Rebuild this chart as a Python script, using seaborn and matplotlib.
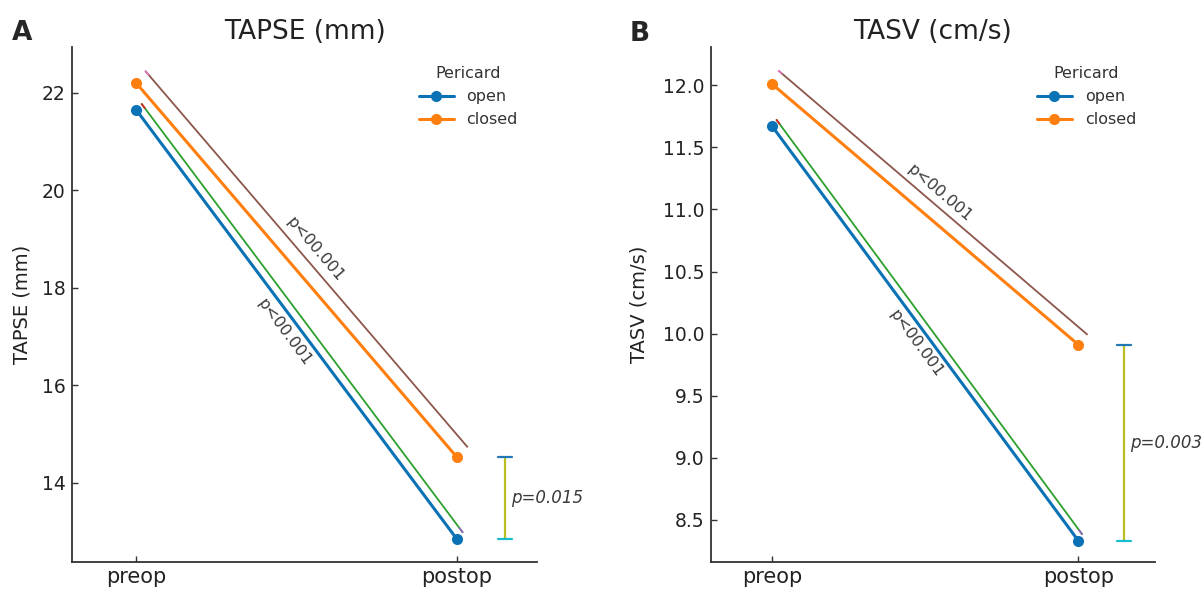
import numpy as np
import pandas as pd
import matplotlib
matplotlib.use("Agg")
import matplotlib.pyplot as plt
import seaborn as sns

# values
times = ["preop", "postop"]
groups = ["open", "closed"]

tapse_open = [21.65, 12.85]
tapse_closed = [22.2, 14.53]
tasv_open = [11.67, 8.33]
tasv_closed = [12.01, 9.91]

p_trend = "p<00.001"
p_tapse = "p=0.015"
p_tasv = "p=0.003"

palette = {"open": "#0a72b5", "closed": "#ff7f0e"}
txt_col = "#3a3a3a"

sns.set_style("ticks", {"xtick.direction": "in", "ytick.direction": "in",
                        "axes.edgecolor": "#333333"})
plt.rcParams["font.family"] = ["DejaVu Sans"]


def make_df(v_open, v_closed):
    rows = []
    for g, vals in zip(groups, [v_open, v_closed]):
        for t, v in zip(times, vals):
            rows.append({"time": t, "value": v, "Pericard": g})
    return pd.DataFrame(rows)


def offset_line(ax, vals, dx0, dx1, dy0, dy1, color, tip0=None, tip1=None):
    # thin line drawn next to a group line, as in the original figure
    x = np.array([0 + dx0, 1 + dx1])
    y = np.array([vals[0] + dy0, vals[1] + dy1])
    ax.plot(x, y, color=color, lw=1.3, solid_capstyle="butt")
    f = 0.012
    if tip0:
        ax.plot([x[0], x[0] + f * (x[1] - x[0])], [y[0], y[0] + f * (y[1] - y[0])],
                color=tip0, lw=1.3, solid_capstyle="butt")
    if tip1:
        ax.plot([x[1] - f * (x[1] - x[0]), x[1]], [y[1] - f * (y[1] - y[0]), y[1]],
                color=tip1, lw=1.3, solid_capstyle="butt")
    return x, y


def line_label(ax, x, y, frac, off_px, text):
    p0 = ax.transData.transform((x[0], y[0]))
    p1 = ax.transData.transform((x[1], y[1]))
    ang = np.degrees(np.arctan2(p1[1] - p0[1], p1[0] - p0[0]))
    xm = x[0] + frac * (x[1] - x[0])
    ym = y[0] + frac * (y[1] - y[0])
    ax.annotate(text, (xm, ym), xytext=(0, off_px * 0.72), textcoords="offset points",
                rotation=ang, rotation_mode="anchor", ha="center", va="center",
                fontsize=11.5, color=txt_col)


def bracket(ax, y0, y1, text):
    xb = 1.15
    ax.plot([xb, xb], [y0, y1], color="#bcbd22", lw=1.6)
    ax.plot([xb - 0.023, xb + 0.023], [y0, y0], color="#17becf", lw=1.6)
    ax.plot([xb - 0.023, xb + 0.023], [y1, y1], color="#1f77b4", lw=1.6)
    ax.text(xb + 0.018, (y0 + y1) / 2, text, fontsize=12, style="italic",
            color=txt_col, ha="left", va="center")


fig = plt.figure(figsize=(12.03, 5.9), dpi=100)
ax1 = fig.add_axes([0.0599, 0.0475, 0.3865, 0.873])
ax2 = fig.add_axes([0.5910, 0.0475, 0.3691, 0.873])

panels = [
    (ax1, tapse_open, tapse_closed, "TAPSE (mm)", (12.38, 22.94), (-0.2, 1.25),
     [14, 16, 18, 20, 22], "%d", (0.016, 0.019, 0.13, 0.13), (0.028, 0.034, 0.25, 0.2),
     (0.4625, -24, 0.526, 20), p_tapse, -0.1075),
    (ax2, tasv_open, tasv_closed, "TASV (cm/s)", (8.16, 12.31), (-0.2, 1.25),
     [8.5, 9.0, 9.5, 10.0, 10.5, 11.0, 11.5, 12.0], "%.1f", (0.013, 0.013, 0.056, 0.05),
     (0.02, 0.03, 0.11, 0.08), (0.47, -22, 0.523, 15.5), p_tasv, -0.162),
]

for ax, v_open, v_closed, label, ylim, xlim, yticks, fmt, g_off, b_off, lab, ptxt, ylx in panels:
    df = make_df(v_open, v_closed)
    sns.lineplot(data=df, x="time", y="value", hue="Pericard", palette=palette,
                 marker="o", markersize=8, markeredgewidth=0, lw=2.2, ax=ax)
    handles, labels = ax.get_legend_handles_labels()
    ax.set_xlim(*xlim)
    ax.set_ylim(*ylim)
    ax.set_yticks(yticks)
    ax.set_yticklabels([fmt % t for t in yticks])
    ax.set_title(label, fontsize=19, color="#222222", pad=6)
    ax.set_ylabel(label, fontsize=14, color="#222222", va="center")
    ax.yaxis.set_label_coords(ylx, 0.5)
    ax.set_xlabel("")
    ax.tick_params(axis="y", labelsize=13.5, colors="#333333", length=4, width=1, pad=4.5)
    ax.tick_params(axis="x", labelsize=15, colors="#333333", length=4, width=1)
    for t in ax.get_xticklabels() + ax.get_yticklabels():
        t.set_color("#222222")
    sns.despine(ax=ax)
    for s in ["left", "bottom"]:
        ax.spines[s].set_linewidth(1.3)

    gx, gy = offset_line(ax, v_open, g_off[0], g_off[1], g_off[2], g_off[3],
                         "#2ca02c", tip0="#d62728", tip1="#9467bd")
    bx, by = offset_line(ax, v_closed, b_off[0], b_off[1], b_off[2], b_off[3],
                         "#8c564b", tip0="#e377c2")
    ox = np.array([0.0, 1.0])
    line_label(ax, ox, np.array(v_open), lab[0], lab[1], p_trend)
    line_label(ax, bx, by, lab[2], lab[3], p_trend)
    bracket(ax, v_open[1], v_closed[1], ptxt)

    ax.legend(handles, labels, title="Pericard", frameon=False, loc="upper right",
              bbox_to_anchor=(0.99, 0.99), fontsize=11.5, title_fontsize=11.5,
              handlelength=2.2, labelcolor="#333333")
    ax.get_legend().get_title().set_color("#333333")

fig.text(0.0182, 0.932, "A", fontsize=19, fontweight="black", ha="center", va="baseline")
fig.text(0.532, 0.930, "B", fontsize=19, fontweight="black", ha="center", va="baseline")

fig.savefig("out.png", dpi=100)
